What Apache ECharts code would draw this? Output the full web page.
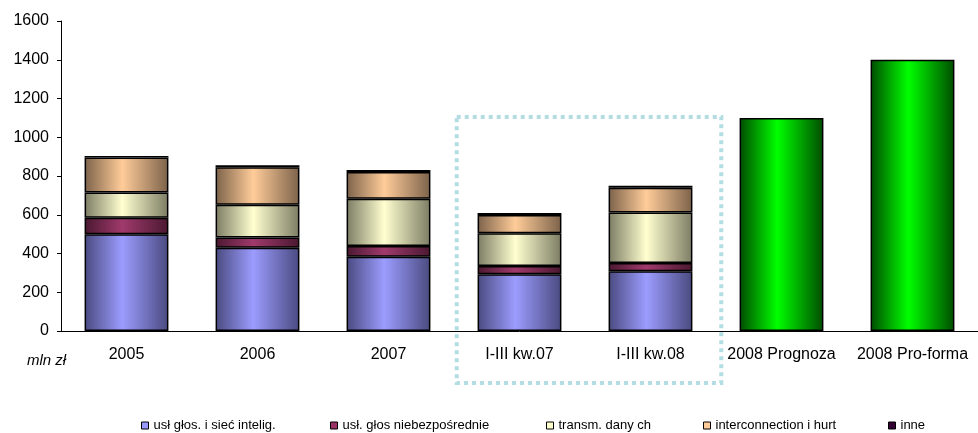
<!DOCTYPE html>
<html>
<head>
<meta charset="utf-8">
<script src="https://cdn.jsdelivr.net/npm/echarts@6/dist/echarts.min.js"></script>
<style>
  html, body { margin: 0; padding: 0; background: #fff; }
  #chart { width: 978px; height: 433px; }
</style>
</head>
<body>
<div id="chart"></div>
<script>
// dane - przychody w mln zł
const categories = ['2005', '2006', '2007', 'I-III kw.07', 'I-III kw.08', '2008 Prognoza', '2008 Pro-forma']
const seriesNames = ['usł głos. i sieć intelig.', 'usł. głos niebezpośrednie', 'transm. dany ch', 'interconnection i hurt', 'inne']
const uslGlos = [500, 430, 383, 293, 308, null, null]
const uslNiebezp = [85, 52, 56, 42, 43, null, null]
const transmDanych = [130, 170, 244, 169, 260, null, null]
const interconnection = [180, 193, 138, 95, 129, null, null]
const inne = [8, 10, 10, 10, 10, null, null]
const prognoza2008 = [null, null, null, null, null, 1100, 1400]
const yTicks = { min: 0, max: 1600, interval: 200 }

const font = 'Arial, "Liberation Sans", sans-serif'

// kolory: [jasny środek, ciemna krawędź, kolor legendy]
const palette = [
    ['#9c9cff', '#4a4a80', '#9999ff'],
    ['#a03a6c', '#4a1830', '#993366'],
    ['#ffffd0', '#7c7c64', '#ffffcc'],
    ['#ffcc99', '#7c624a', '#ffcc99'],
    ['#3a003a', '#120012', '#330033'],
    ['#00ff00', '#004c00', '#00ff00']
]

const grad = (light, dark) => ({
    type: 'linear', x: 0, y: 0, x2: 1, y2: 0,
    colorStops: [
        { offset: 0, color: dark },
        { offset: 0.45, color: light },
        { offset: 1, color: dark }
    ]
})

const chart = echarts.init(document.getElementById('chart'))

const stackData = [uslGlos, uslNiebezp, transmDanych, interconnection, inne]
const series = stackData.map((d, i) => ({
    name: seriesNames[i],
    type: 'bar',
    stack: 'total',
    barWidth: '64%',
    itemStyle: {
        color: grad(palette[i][0], palette[i][1]),
        borderColor: '#000',
        borderWidth: 1.5
    },
    data: d
}))
series.push({
    name: '2008',
    type: 'bar',
    stack: 'total',
    barWidth: '64%',
    itemStyle: {
        color: grad(palette[5][0], palette[5][1]),
        borderColor: '#000',
        borderWidth: 1.5
    },
    data: prognoza2008
})

// pozycje legendy (osobne elementy jak w Excelu)
const legendLeft = [141, 330, 546, 703, 888]
const legends = seriesNames.map((n, i) => ({
    left: legendLeft[i],
    top: 419,
    padding: 0,
    icon: 'rect',
    itemWidth: 7,
    itemHeight: 7,
    selectedMode: false,
    textStyle: { fontFamily: font, fontSize: 13, color: '#000' },
    data: [{ name: n, itemStyle: { color: palette[i][2], borderColor: '#000', borderWidth: 1 } }]
}))

const option = {
    animation: false,
    grid: { left: 61, top: 21, width: 921, height: 310 },
    legend: legends,
    xAxis: {
        type: 'category',
        data: categories,
        axisLine: { lineStyle: { color: '#000', width: 1 } },
        axisTick: { length: 4, lineStyle: { color: '#000' } },
        axisLabel: { interval: 0, color: '#000', fontFamily: font, fontSize: 16, margin: 16 }
    },
    yAxis: {
        type: 'value',
        min: yTicks.min,
        max: yTicks.max,
        interval: yTicks.interval,
        axisLine: { show: true, lineStyle: { color: '#000', width: 1 } },
        axisTick: { show: true, length: 4, lineStyle: { color: '#000' } },
        splitLine: { show: false },
        axisLabel: { color: '#000', fontFamily: font, fontSize: 16, margin: 12, formatter: v => String(v) }
    },
    series: series
}

chart.setOption(option)

// ramka kropkowana wokół danych kwartalnych
const band = 921 / categories.length
const c3 = chart.convertToPixel({ xAxisIndex: 0 }, categories[3])
const c4 = chart.convertToPixel({ xAxisIndex: 0 }, categories[4])
const yTop = chart.convertToPixel({ yAxisIndex: 0 }, 1105)
const yZero = chart.convertToPixel({ yAxisIndex: 0 }, 0)
const boxLeft = c3 - band / 2 + 3
const boxRight = c4 + band / 2 + 5

chart.setOption({
    graphic: [
        {
            type: 'rect',
            z: 100,
            shape: { x: boxLeft, y: yTop, width: boxRight - boxLeft, height: yZero + 52 - yTop },
            style: { fill: null, stroke: '#b3dde2', lineWidth: 4, lineDash: [4, 4] }
        },
        {
            type: 'text',
            left: 27,
            top: 353,
            style: { text: 'mln zł', font: 'italic 15px ' + font, fill: '#000' }
        }
    ]
})

window.addEventListener('resize', () => {
    chart.resize()
})
</script>
</body>
</html>
